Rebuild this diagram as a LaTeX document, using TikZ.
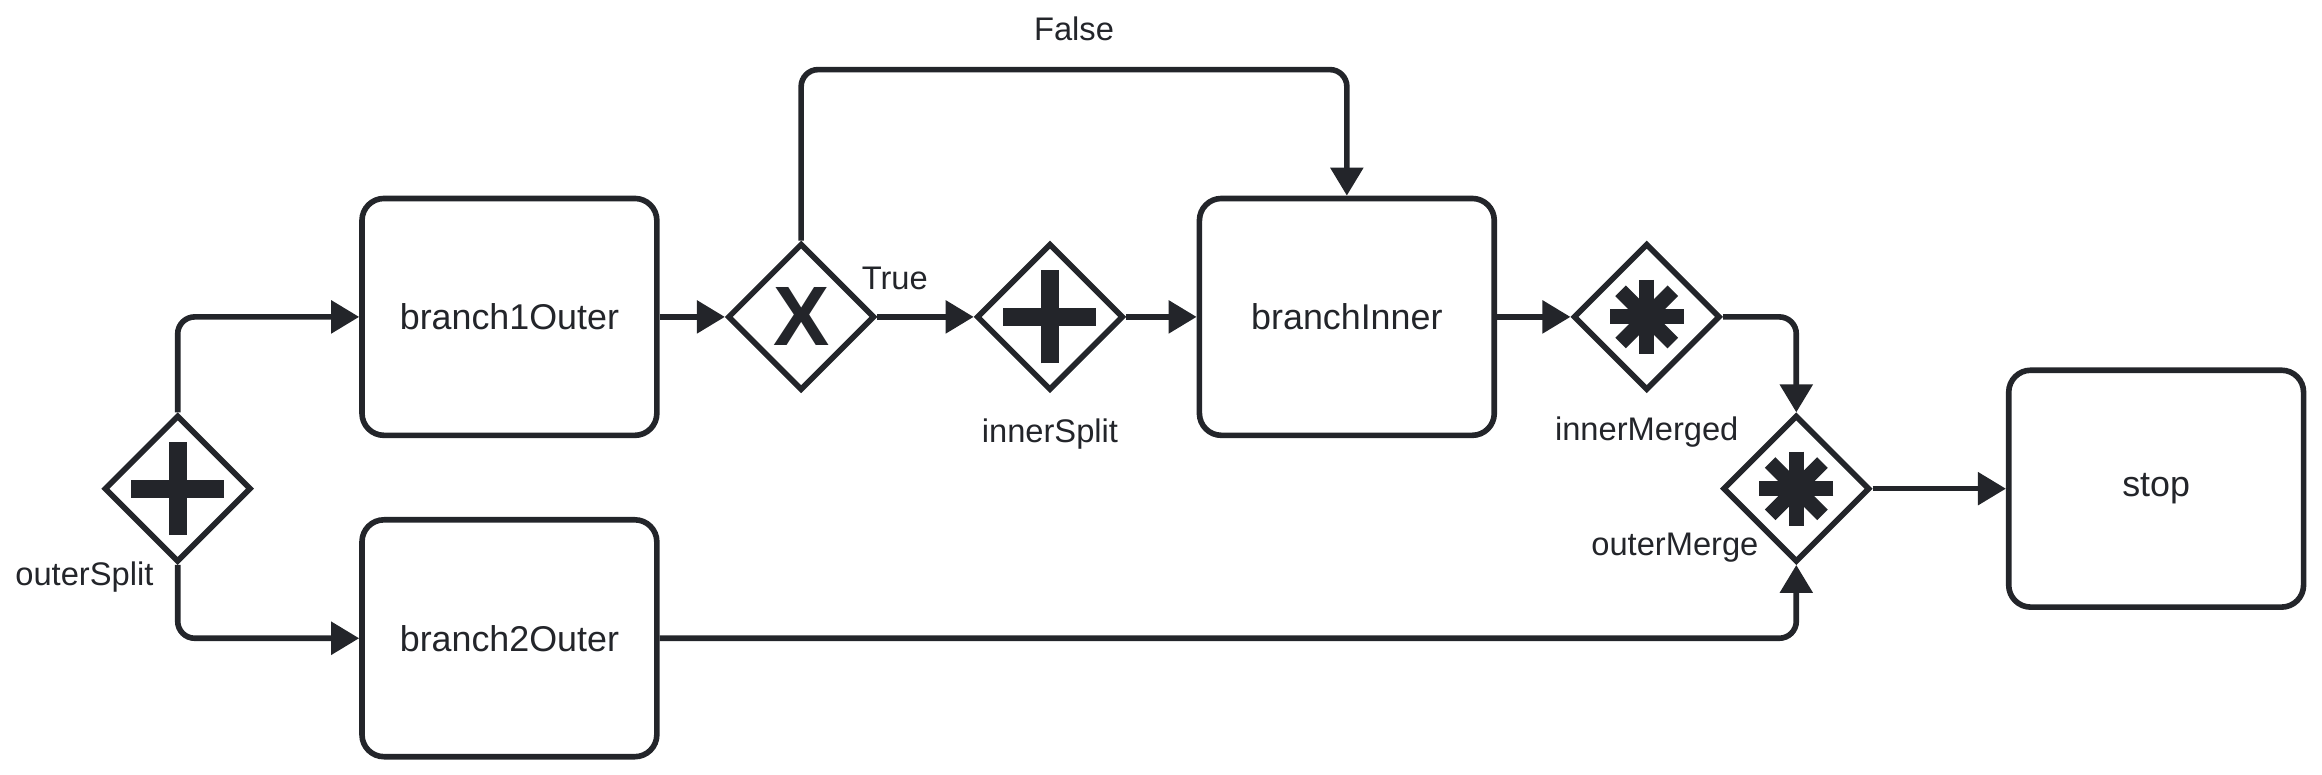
\documentclass[tikz,border=0pt]{standalone}
\usepackage{fontspec}
\setmainfont{Liberation Sans}
\usetikzlibrary{shapes.geometric, arrows.meta}
\definecolor{ink_dark}			{RGB}{35,37,42}

\begin{document}
\begin{tikzpicture}[auto,
		x               = 0.01481cm,
		y               = 0.01481cm,
		task/.style     = {draw = ink_dark,
			rectangle,
			rounded corners = 0.22cm,
			text centered,
			fill           = white,
			minimum width  = 2.95cm,
			minimum height = 2.37cm,
			font = \fontsize{10.2}{12}\selectfont \color{ink_dark},
			line width     = 1.6pt},
		gate/.style     = {draw = ink_dark,
			diamond,
			aspect         = 1,
			inner sep      = 0pt,
			fill           = white,
			minimum width  = 1.47cm,
			minimum height = 1.47cm,
			font = \fontsize{24}{24}\selectfont \bfseries \color{ink_dark},
			line width     = 1.6pt},
		plusMark/.style = {path picture = {
			\draw[ink_dark, line width = 0.18cm]
				([xshift=-0.465cm]path picture bounding box.center) -- ([xshift=0.465cm]path picture bounding box.center)
				([yshift=-0.465cm]path picture bounding box.center) -- ([yshift=0.465cm]path picture bounding box.center);}},
		starMark/.style = {path picture = {
			\foreach \ang in {0,45,90,135}
				\draw[ink_dark, line width = 0.15cm]
					([shift={(\ang:0.37cm)}]path picture bounding box.center) -- ([shift={(\ang+180:0.37cm)}]path picture bounding box.center);}},
		lbl/.style      = {font = \fontsize{9.3}{11}\selectfont \color{ink_dark}},
		flow/.style     = {draw = ink_dark,
			line width      = 1.6pt,
			rounded corners = 0.17cm,
			-{Triangle[length=0.28cm, width=0.32cm]}}]
		
		\useasboundingbox (0,0) rectangle (1568,523);
		
		\node[gate, plusMark] (outerSplit) at (120,193) {};
		\node[task] (branch1Outer) at (344,309) {branch1Outer};
		\node[task] (branch2Outer) at (344,92) {branch2Outer};
		\node[gate] (xorGate) at (541,309) {X};
		\node[gate, plusMark] (innerSplit) at (709,309) {};
		\node[task] (branchInner) at (909.5,309) {branchInner};
		\node[gate, starMark] (innerMerged) at (1112,309) {};
		\node[gate, starMark] (outerMerge) at (1213,193) {};
		\node[task] (stop) at (1456,193) {stop};
		
		\node[lbl] (outerSplitLbl) at (57,133) {outerSplit};
		\node[lbl] (innerSplitLbl) at (709,230) {innerSplit};
		\node[lbl] (innerMergedLbl) at (1112,231) {innerMerged};
		\node[lbl] (outerMergeLbl) at (1131,153) {outerMerge};
		
		\coordinate (falseTop) at (0,476); % height of the False branch
		
		\draw[flow] (outerSplit.north) |- (branch1Outer.west);
		\draw[flow] (outerSplit.south) |- (branch2Outer.west);
		\draw[flow] (branch1Outer.east) -- (xorGate.west);
		\draw[flow] (xorGate.east) -- node[lbl, pos=0.18, above=0.13cm] {True} (innerSplit.west);
		\draw[flow] (xorGate.north) -- (xorGate.north |- falseTop) -| node[lbl, pos=0.25, above=0.14cm] {False} (branchInner.north);
		\draw[flow] (innerSplit.east) -- (branchInner.west);
		\draw[flow] (branchInner.east) -- (innerMerged.west);
		\draw[flow] (innerMerged.east) -| (outerMerge.north);
		\draw[flow] (branch2Outer.east) -| (outerMerge.south);
		\draw[flow] (outerMerge.east) -- (stop.west);
		
	\end{tikzpicture}
\end{document}
